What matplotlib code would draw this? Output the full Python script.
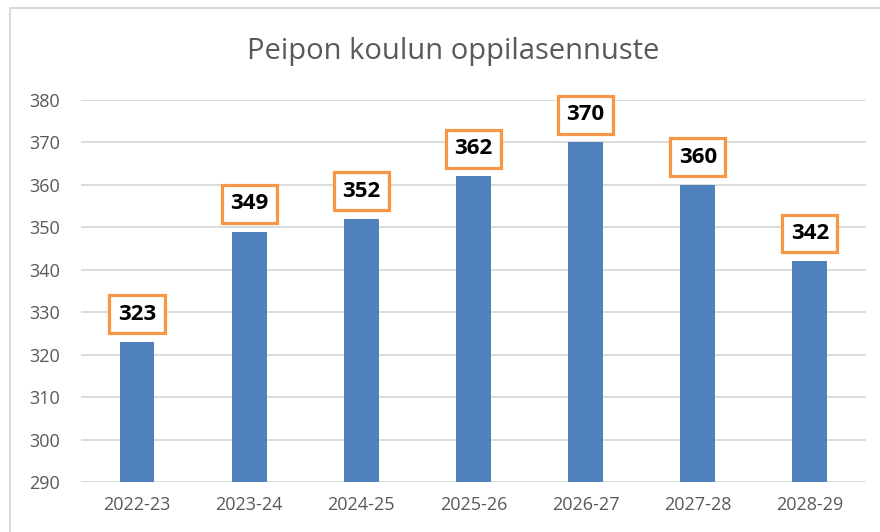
import matplotlib.pyplot as plt
from matplotlib.patches import Rectangle

# Data
years = ['2022-23', '2023-24', '2024-25', '2025-26', '2026-27', '2027-28', '2028-29']
students = [323, 349, 352, 362, 370, 360, 342]
y_ticks = [290, 300, 310, 320, 330, 340, 350, 360, 370, 380]

bar_color = '#4F81BD'
box_color = '#F79646'
text_gray = '#595959'
grid_gray = '#D9D9D9'

plt.rcParams['font.family'] = ['Open Sans', 'DejaVu Sans']

fig = plt.figure(figsize=(8.8, 5.32), dpi=100)
ax = fig.add_axes([0.092, 0.094, 0.892, 0.718])

# outer chart border
fig.patches.append(Rectangle((10 / 880, -0.1), 1.2, 1 - 8 / 532 + 0.1,
                             transform=fig.transFigure, fill=False,
                             edgecolor=grid_gray, linewidth=1.5))

x = range(len(years))
ax.bar(x, students, width=0.31, color=bar_color, zorder=3)

for xi, v in zip(x, students):
    ax.annotate(str(v), (xi, v), xytext=(0, 20), textcoords='offset points',
                ha='center', va='center', fontsize=16, fontweight='bold',
                color='black', zorder=5,
                bbox=dict(boxstyle='square,pad=0.38', facecolor='white',
                          edgecolor=box_color, linewidth=2.3))

ax.set_ylim(290, 380)
ax.set_xlim(-0.5, len(years) - 0.5)
ax.set_yticks(y_ticks)
ax.set_xticks(list(x))
ax.set_xticklabels(years)
ax.grid(axis='y', color=grid_gray, linewidth=1.3, zorder=0)
ax.tick_params(axis='both', length=0, labelsize=13, colors=text_gray)
ax.tick_params(axis='y', pad=15)
ax.tick_params(axis='x', pad=10)
for s in ax.spines.values():
    s.set_visible(False)

fig.text(453 / 880, 1 - 52 / 532, 'Peipon koulun oppilasennuste', ha='center',
         va='center', fontsize=21, color=text_gray)

fig.savefig('out.png', dpi=100)
